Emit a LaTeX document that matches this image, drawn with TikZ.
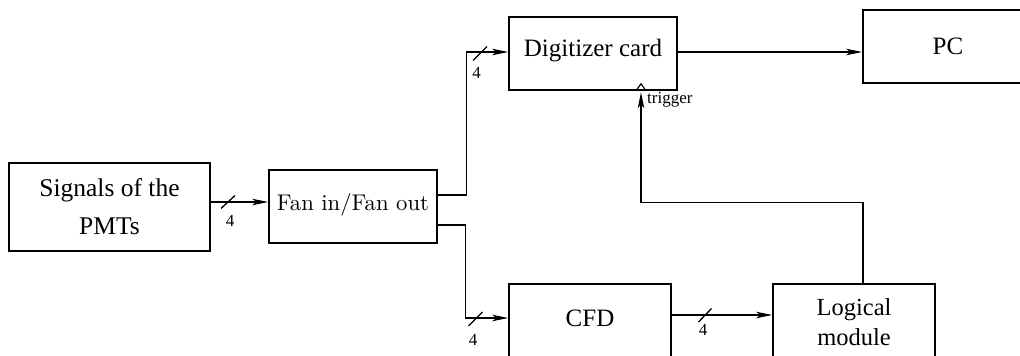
\documentclass[tikz,border=0pt]{standalone}
\usepackage{fontspec}
\usepackage{graphicx}
\newfontfamily\tms{Liberation Serif}
\usetikzlibrary{arrows.meta}
\begin{document}
\begin{tikzpicture}[x=1pt,y=-1pt,
  blk/.style={draw,line width=1.6pt,inner sep=0pt,align=center,
    font=\tms\fontsize{25}{30}\selectfont},
  con/.style={line width=1.3pt},
  arr/.style={con,-{Stealth[length=16pt,width=6.5pt,inset=4pt]}},
  tickmark/.style={line width=1.3pt},
  num/.style={font=\tms\fontsize{17}{17}\selectfont,inner sep=0pt}]
\useasboundingbox (0,0) rectangle (1020,356);
\clip (0,0) rectangle (1020,356);

% blocks
\node[blk,minimum width=201pt,minimum height=88pt,
  font=\tms\fontsize{25.5}{38}\selectfont] (sig) at (109.5,207) {Signals of the\\PMTs};
\node[blk,minimum width=168pt,minimum height=73pt,
  font=\fontsize{10}{12}\selectfont,text height=15.5pt,text depth=8pt] (fan) at (353,206.5) {\scalebox{2.27}{Fan in/Fan out}};
\node[blk,minimum width=168pt,minimum height=73pt,text height=16.5pt,text depth=11pt] (dig) at (593,53.5) {Digitizer card};
\node[blk,minimum width=170pt,minimum height=73pt,text height=16.5pt,text depth=0pt] (pc) at (948,46.5) {PC};
\node[blk,minimum width=162pt,minimum height=77pt,text height=16.5pt,text depth=8.5pt] (cfd) at (590,322.5) {CFD};
\node[blk,minimum width=162pt,minimum height=77pt,
  font=\tms\fontsize{24.5}{30}\selectfont] (log) at (854,322.5) {Logical\\module};

% connectors
\draw[arr] ([yshift=5pt]sig.east) -- ([yshift=5pt]sig.east -| fan.west);
\draw[arr] ([yshift=11.5pt]fan.east) -- ++(29,0) |- ([yshift=1.5pt]dig.west);
\draw[arr] ([yshift=-18.5pt]fan.east) -- ++(28,0) |- ([yshift=4.5pt]cfd.west);
\draw[arr] ([yshift=1.5pt]dig.east) -- ([yshift=1.5pt]dig.east -| pc.west);
\draw[arr] ([yshift=7.5pt]cfd.east) -- ([yshift=7.5pt]cfd.east -| log.west);

% trigger
\coordinate (trg) at ([xshift=48pt]dig.south);
\draw[arr] ([xshift=9pt]log.north) -- ++(0,-81) -| ([yshift=-1.5pt]trg);
\draw[line width=1.2pt] ([xshift=-5pt]trg) -- ([yshift=7pt]trg) -- ([xshift=5pt]trg);
\node[num,anchor=base west] (trglbl) at (647,103.5) {trigger};

% bus width marks
\draw[tickmark] (221,208.5) -- (235,195.5);
\node[num] (n1) at (230,221) {4};
\draw[tickmark] (473,60.5) -- (487,46.5);
\node[num] (n2) at (476.5,72.5) {4};
\draw[tickmark] (468.5,326) -- (482.5,312);
\node[num] (n3) at (473,340) {4};
\draw[tickmark] (698.5,322) -- (711.5,308.5);
\node[num] (n4) at (703,329.5) {4};
\end{tikzpicture}
\end{document}
